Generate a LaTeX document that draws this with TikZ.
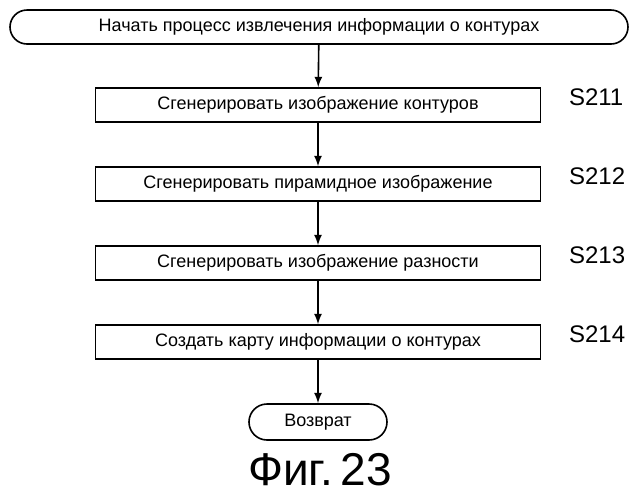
\documentclass[tikz,border=0pt]{standalone}
\usepackage{fontspec}
\setmainfont{Liberation Sans}
\usetikzlibrary{shapes,arrows,positioning,calc}
\tikzset{
	stepbox/.style={draw, thick, minimum width=222.5pt, minimum height=17pt, font=\small, inner sep=0pt},
	term/.style={draw, thick, rounded corners=8.5pt, minimum height=17pt, font=\small, inner sep=0pt},
	flow/.style={thick,-latex},
	steplabel/.style={font=\large, anchor=west}
}
\begin{document}
\begin{tikzpicture}[x=0.5pt,y=-0.5pt]
	\useasboundingbox (0,0) rectangle (639,500);
	\node[term, minimum width=309pt] (start) at (319,27) {Начать процесс извлечения информации о контурах};
	\node[stepbox] (s1) at (318,105) {Сгенерировать изображение контуров};
	\node[stepbox] (s2) at (318,184) {Сгенерировать пирамидное изображение};
	\node[stepbox] (s3) at (318,263) {Сгенерировать изображение разности};
	\node[stepbox] (s4) at (318,342) {Создать карту информации о контурах};
	\node[term, minimum width=69pt, minimum height=18pt, rounded corners=9pt] (ret) at (318,422) {Возврат};
	\node[steplabel] (l1) at (562,97) {S211};
	\node[steplabel] (l2) at (562,176) {S212};
	\node[steplabel] (l3) at (562,255) {S213};
	\node[steplabel] (l4) at (562,334) {S214};
	\node[font=\fontsize{23}{26}\selectfont] (fig) at (320,470) {Фиг.\,23};
	
	\draw[flow] (start) -- (s1);
	\draw[flow] (s1) -- (s2);
	\draw[flow] (s2) -- (s3);
	\draw[flow] (s3) -- (s4);
	\draw[flow] (s4) -- (ret);
\end{tikzpicture}
\end{document}
